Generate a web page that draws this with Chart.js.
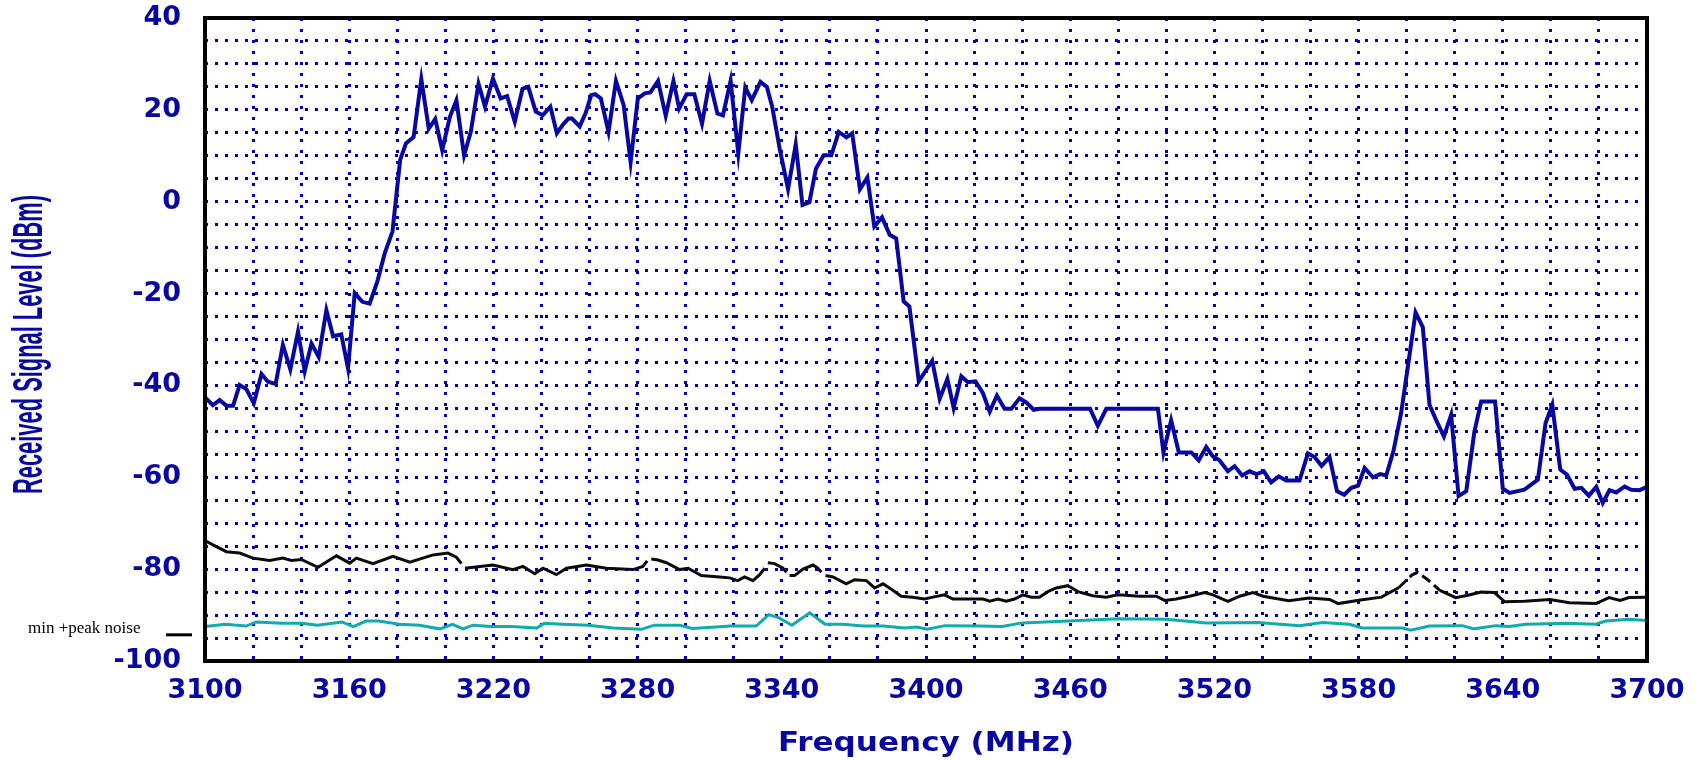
<!DOCTYPE html>
<html>
<head>
<meta charset="utf-8">
<script src="https://cdn.jsdelivr.net/npm/chart.js@4.4.1/dist/chart.umd.min.js"></script>
<style>
  html, body { margin: 0; padding: 0; background: #fff; }
  #wrap { width: 1703px; height: 760px; }
</style>
</head>
<body>
<div id="wrap"><canvas id="spectrum" width="1703" height="760"></canvas></div>
<script>
// received signal level (dBm) against frequency (MHz)
const signalFreq = [3100, 3103.3, 3106.1, 3108.9, 3111.7, 3114.4, 3117.2, 3120.3, 3123.5, 3126.2,
  3129.4, 3132.4, 3135.5, 3138.7, 3141.5, 3144.3, 3147.3, 3150.5, 3153.3, 3156.7,
  3159.5, 3162.3, 3165.5, 3168.5, 3171.7, 3174.8, 3178, 3181.2, 3183.6, 3186.8,
  3190, 3193.1, 3195.8, 3198.7, 3201.9, 3204.6, 3207.8, 3210.6, 3213.8, 3216.5,
  3219.8, 3223, 3225.7, 3228.9, 3232.1, 3234.5, 3237.6, 3240.5, 3243.7, 3246.4,
  3248.8, 3251.2, 3252.7, 3255.9, 3258.3, 3260.7, 3262.3, 3264.7, 3267.9, 3271,
  3274.2, 3277.1, 3280.1, 3283, 3285.3, 3288.5, 3291.7, 3294.9, 3297.3, 3300.4,
  3303.6, 3306.8, 3310, 3313.2, 3315.5, 3318.7, 3321.9, 3324.8, 3327.5, 3331.1,
  3333.8, 3336, 3339.1, 3342.6, 3345.8, 3348.6, 3351.5, 3354.2, 3357.4, 3360.6,
  3363.7, 3366.9, 3369.3, 3372.5, 3375.6, 3378.5, 3381.7, 3384.9, 3387.6, 3390.7,
  3393.1, 3397, 3402.6, 3405.7, 3408.9, 3411.5, 3414.7, 3417.4, 3420.6, 3423.7,
  3426.5, 3429.5, 3432.7, 3435.5, 3438.9, 3441.7, 3444.8, 3447.3, 3468.3, 3471.5,
  3475, 3496.5, 3498.8, 3502, 3505.2, 3510.4, 3513.5, 3516.6, 3519.3, 3522.1,
  3525.6, 3528.4, 3531.6, 3534.6, 3537.5, 3540.6, 3543.6, 3546.8, 3549.8, 3555.4,
  3558.9, 3561.7, 3564.6, 3567.9, 3571, 3574, 3577, 3579.8, 3582.5, 3586,
  3589, 3591.5, 3594.5, 3597.7, 3600.5, 3603.7, 3606.7, 3609.5, 3612.3, 3615.5,
  3618.5, 3621.6, 3624.8, 3628.2, 3631, 3636.8, 3640, 3642.8, 3649, 3654.6,
  3657.8, 3660.6, 3663.9, 3666.7, 3669.9, 3672.7, 3675.8, 3678.9, 3681.6, 3684.4,
  3687.2, 3690.7, 3693.4, 3696.9, 3700];
const signalLevel = [-42.6, -44.3, -43.2, -44.4, -44.4, -39.9, -40.8, -43.9, -37.5, -39.2,
  -39.7, -31.2, -36.5, -28.3, -36.9, -30.9, -33.8, -23.6, -29.3, -28.9,
  -36.3, -19.9, -21.8, -22.2, -17.4, -11.2, -6.5, 9.1, 12.7, 14.1,
  26.7, 15.9, 18.0, 11.2, 18.5, 22.1, 10.1, 15.2, 25.7, 20.7,
  26.8, 22.5, 23.0, 17.4, 24.6, 25.0, 19.6, 18.8, 20.7, 14.9,
  16.7, 18.1, 18.1, 16.4, 19.2, 23.2, 23.4, 22.5, 15.2, 26.3,
  21.0, 8.6, 22.5, 23.6, 23.8, 26.3, 18.7, 26.3, 20.3, 23.4,
  23.4, 17.0, 26.3, 19.2, 18.8, 26.3, 10.5, 24.9, 22.1, 26.1,
  25.0, 20.7, 11.6, 2.7, 12.5, -0.7, -0.1, 7.2, 10.1, 10.1,
  15.2, 14.0, 14.9, 2.7, 5.3, -5.4, -3.4, -7.2, -8.0, -21.7,
  -22.8, -39.1, -34.6, -42.9, -38.6, -44.9, -38.0, -39.3, -39.1, -41.7,
  -45.7, -42.2, -45.1, -45.1, -42.8, -43.7, -45.3, -45.1, -45.1, -48.8,
  -45.1, -45.1, -54.6, -47.6, -54.6, -54.6, -56.3, -53.4, -55.4, -56.3,
  -58.7, -57.6, -59.6, -58.7, -59.3, -58.7, -61.1, -59.8, -60.7, -60.7,
  -54.8, -55.6, -57.5, -55.6, -63.0, -63.8, -62.3, -61.8, -58.0, -60.0,
  -59.3, -59.6, -54.3, -46.0, -35.9, -24.1, -27.3, -44.2, -47.6, -51.1,
  -46.4, -64.1, -63.0, -50.0, -43.5, -43.5, -62.5, -63.4, -62.7, -60.5,
  -48.2, -44.2, -58.3, -59.4, -62.5, -62.3, -64.0, -62.1, -65.6, -62.8,
  -63.3, -62.0, -62.7, -62.8, -62.1];

// peak noise trace, null = break in the trace
const peakFreq = [3100, 3103.3, 3108.9, 3114.4, 3120, 3126.9, 3132.4, 3135.9, 3140.1, 3147,
  3154.7, 3160.2, 3163, 3169.9, 3178.2, 3185.2, 3194.9, 3201.1, 3204.6, 3206.7,
  3207.4, 3208.2, 3219.8, 3228.1, 3232.3, 3237.2, 3240.6, 3246.2, 3250.4, 3258.7,
  3267, 3278.1, 3282.2, 3284, 3284.9, 3285.7, 3288.5, 3292, 3297.5, 3301,
  3306.5, 3314.1, 3318.3, 3321.7, 3324.5, 3328, 3330.8, 3332.9, 3333.6, 3334.2,
  3337, 3340.5, 3341.9, 3342.6, 3343.2, 3345.3, 3348.8, 3353, 3355, 3356.5,
  3357.4, 3358.2, 3361.3, 3366.8, 3370.3, 3375.2, 3378.6, 3382.1, 3386.2, 3389.7,
  3394.5, 3399.4, 3402.9, 3407.7, 3411.2, 3423.7, 3426.5, 3429.9, 3433.4, 3436.8,
  3440.3, 3443.8, 3447.2, 3450.7, 3454.2, 3459, 3463.2, 3469.4, 3475, 3479.8,
  3488.9, 3495.8, 3499.3, 3504.1, 3509.7, 3515.9, 3519.4, 3525.6, 3530.5, 3536,
  3540.3, 3550.9, 3559.5, 3567.9, 3571.5, 3580.8, 3589.5, 3596.8, 3602.1, 3604.5,
  3608.5, 3613.8, 3620.4, 3625.5, 3631, 3636.5, 3640.8, 3649, 3659.6, 3667.7,
  3678.8, 3684.2, 3688.8, 3692.5, 3700];
const peakLevel = [-73.8, -74.7, -76.2, -76.5, -77.6, -78.1, -77.6, -78.1, -77.9, -79.6,
  -77.1, -78.7, -77.6, -78.8, -77.2, -78.5, -76.9, -76.5, -77.4, -78.8,
  null, -79.8, -79.1, -80.1, -79.4, -81.0, -79.8, -81.2, -79.8, -79.1,
  -79.8, -80.1, -79.4, -78.2, null, -77.8, -78.0, -78.6, -80.1, -79.8,
  -81.4, -81.7, -81.9, -82.5, -81.7, -82.5, -81.2, -79.8, null, -78.6,
  -78.8, -79.8, -80.7, null, -81.4, -81.4, -80.0, -79.1, -79.8, -80.7,
  null, -81.4, -81.7, -83.2, -82.3, -82.5, -84.1, -83.2, -84.6, -85.9,
  -86.1, -86.5, -86.1, -85.6, -86.5, -86.5, -87.0, -86.5, -87.0, -86.5,
  -85.6, -86.1, -86.1, -84.9, -84.1, -83.6, -84.9, -85.8, -86.1, -85.6,
  -85.9, -85.9, -86.8, -86.5, -85.9, -85.1, -85.6, -87.0, -85.9, -85.1,
  -85.9, -86.9, -86.3, -86.6, -87.5, -86.7, -86.1, -84.0, -81.3, -80.7,
  -82.2, -84.6, -86.2, -85.7, -85.0, -85.1, -87.1, -87.0, -86.6, -87.3,
  -87.5, -86.2, -86.8, -86.2, -86.1];

// min noise trace
const minFreq = [3100, 3108.6, 3117.1, 3121.3, 3131.9, 3140.4, 3146.8, 3157, 3161.7, 3167,
  3172.3, 3180.8, 3189.2, 3197.7, 3203, 3207.3, 3211.5, 3218.9, 3227.4, 3238,
  3241.2, 3248.7, 3259.3, 3269.9, 3281.6, 3286.9, 3297.5, 3302.8, 3318.7, 3329.3,
  3334.6, 3338.9, 3344.2, 3351.6, 3358, 3365.4, 3373.9, 3382.4, 3390.9, 3396.2,
  3400.5, 3407.9, 3422.3, 3431.6, 3440.1, 3459.3, 3480.6, 3499.8, 3516.8, 3538.2,
  3555.4, 3565, 3576.1, 3581.6, 3598.3, 3601.7, 3609.4, 3623.2, 3628.1, 3637.1,
  3642.6, 3649.6, 3666.2, 3678.7, 3682.8, 3692.5, 3700];
const minLevel = [-92.5, -92.0, -92.4, -91.5, -91.8, -91.8, -92.2, -91.5, -92.5, -91.3,
  -91.3, -92.0, -92.2, -93.0, -92.0, -93.0, -92.2, -92.5, -92.5, -92.8,
  -91.8, -92.0, -92.2, -92.8, -93.1, -92.2, -92.2, -92.9, -92.4, -92.4,
  -89.9, -90.6, -92.2, -89.5, -92.0, -92.0, -92.4, -92.4, -92.8, -92.6,
  -93.1, -92.3, -92.4, -92.5, -91.7, -91.3, -90.8, -90.9, -91.7, -91.6,
  -92.3, -91.6, -92.0, -92.8, -92.8, -93.3, -92.4, -92.3, -93.0, -92.3,
  -92.5, -92.0, -91.8, -92.0, -91.3, -90.9, -91.2];

const xTicks = [3100, 3160, 3220, 3280, 3340, 3400, 3460, 3520, 3580, 3640, 3700];
const yTicks = [-100, -80, -60, -40, -20, 0, 20, 40];
const noiseMark = -94.3;   // level of the little "min +peak noise" dash

const xyPoints = (xs, ys) => xs.map((x, i) => ({ x: x, y: ys[i] }));

const blue = '#0808a0';
const gridBlue = '#0000c4';
const tickFont = { family: 'DejaVu Sans', weight: 'bold', size: 27 };

// draws text squeezed/stretched to a given length
function fitText(ctx, text, x, y, len, angle) {
  ctx.save();
  ctx.translate(x, y);
  ctx.rotate(angle);
  const w = ctx.measureText(text).width;
  ctx.scale(len / w, 1);
  ctx.fillText(text, 0, 0);
  ctx.restore();
}

const decor = {
  id: 'decor',
  afterDatasetsDraw(chart) {
    const { ctx, chartArea: a, scales } = chart;
    ctx.save();
    // plot frame
    ctx.strokeStyle = '#000';
    ctx.lineWidth = 4;
    ctx.strokeRect(a.left, a.top, a.right - a.left, a.bottom - a.top);

    // noise marker at the left
    const ym = scales.y.getPixelForValue(noiseMark);
    ctx.lineWidth = 3;
    ctx.beginPath();
    ctx.moveTo(a.left - 39, ym);
    ctx.lineTo(a.left - 13, ym);
    ctx.stroke();
    ctx.fillStyle = '#000';
    ctx.font = '17px "Liberation Serif"';
    ctx.textAlign = 'left';
    ctx.textBaseline = 'alphabetic';
    ctx.fillText('min +peak noise', a.left - 177, ym - 2);

    // axis titles
    ctx.fillStyle = blue;
    ctx.textAlign = 'center';
    ctx.font = 'bold 26px "DejaVu Sans"';
    fitText(ctx, 'Frequency (MHz)', (a.left + a.right) / 2, chart.height - 9, 296, 0);
    ctx.textBaseline = 'middle';
    ctx.font = 'bold 42px "Liberation Sans"';
    fitText(ctx, 'Received Signal Level (dBm)', a.left - 175, (a.top + a.bottom) / 2 + 5, 299, -Math.PI / 2);
    ctx.restore();
  }
};

new Chart(document.getElementById('spectrum'), {
  type: 'line',
  data: {
    datasets: [
      {
        label: 'Received signal',
        data: xyPoints(signalFreq, signalLevel),
        borderColor: blue,
        borderWidth: 4,
        pointRadius: 0,
        tension: 0
      },
      {
        label: 'Peak noise',
        data: xyPoints(peakFreq, peakLevel),
        borderColor: '#0a0a0a',
        borderWidth: 3,
        pointRadius: 0,
        tension: 0,
        spanGaps: false,
        segment: {
          borderDash: c => (peakFreq[c.p0DataIndex] >= 3596 && peakFreq[c.p1DataIndex] <= 3614) ? [10, 5] : undefined
        }
      },
      {
        label: 'Min noise',
        data: xyPoints(minFreq, minLevel),
        borderColor: '#12abab',
        borderWidth: 3,
        pointRadius: 0,
        tension: 0
      }
    ]
  },
  options: {
    responsive: false,
    animation: false,
    layout: { padding: { top: 18, right: 56, left: 0, bottom: 0 } },
    plugins: { legend: { display: false }, tooltip: { enabled: false } },
    scales: {
      x: {
        type: 'linear',
        min: 3100,
        max: 3700,
        afterFit: s => { s.height = 99; },
        grid: { color: gridBlue, lineWidth: 3, drawTicks: false },
        border: { display: false, dash: [3, 8] },
        ticks: {
          stepSize: 20,
          autoSkip: false,
          maxRotation: 0,
          padding: 14,
          color: blue,
          font: tickFont,
          callback: v => xTicks.includes(v) ? String(v) : ''
        }
      },
      y: {
        min: -100,
        max: 40,
        // keep the tick padding from pushing the plot down
        afterFit: s => { s.width = 205; s.paddingTop = 16; s.paddingBottom = 16; },
        grid: { color: gridBlue, lineWidth: 3, drawTicks: false },
        border: { display: false, dash: [3, 7] },
        ticks: {
          stepSize: 5,
          autoSkip: false,
          padding: 24,
          color: blue,
          font: tickFont,
          callback: v => yTicks.includes(v) ? String(v) : ''
        }
      }
    }
  },
  plugins: [decor]
});
</script>
</body>
</html>
